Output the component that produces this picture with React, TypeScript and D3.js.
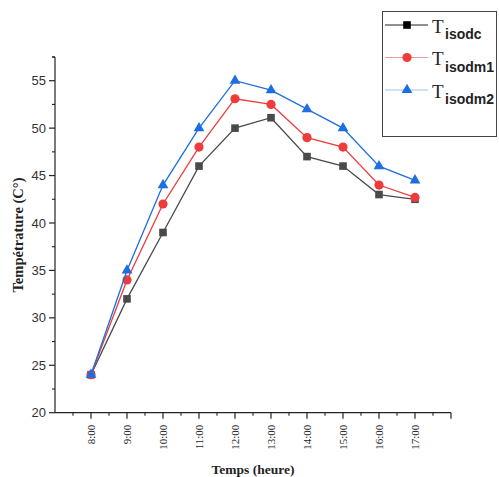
import React from "react";
import * as d3 from "d3";

const hours = [8, 9, 10, 11, 12, 13, 14, 15, 16, 17];
const hourLabels = ["8:00", "9:00", "10:00", "11:00", "12:00", "13:00", "14:00", "15:00", "16:00", "17:00"];
const tIsodc = [24, 32, 39, 46, 50, 51.1, 47, 46, 43, 42.5];
const tIsodm1 = [24, 34, 42, 48, 53.1, 52.5, 49, 48, 44, 42.7];
const tIsodm2 = [24, 35, 44, 50, 55, 54, 52, 50, 46, 44.5];
const yTicks = [20, 25, 30, 35, 40, 45, 50, 55];
const seriesNames = ["isodc", "isodm1", "isodm2"];

const W = 499, H = 477;
const x = d3.scaleLinear().domain([7, 18]).range([55, 451]);
const y = d3.scaleLinear().domain([20, 57.5]).range([412.7, 57]);

const series = [
  { name: seriesNames[0], values: tIsodc, color: "#4a4a4a", legendLine: "#222", marker: "square" },
  { name: seriesNames[1], values: tIsodm1, color: "#ee3b3b", legendLine: "#f59a9a", marker: "circle" },
  { name: seriesNames[2], values: tIsodm2, color: "#1d6ee0", legendLine: "#9cc2f2", marker: "triangle" },
];

function Marker({ type, cx, cy, color }: { type: string; cx: number; cy: number; color: string }) {
  if (type === "square") return <rect x={cx - 3.8} y={cy - 3.8} width={7.6} height={7.6} fill={color} />;
  if (type === "circle") return <circle cx={cx} cy={cy} r={4.6} fill={color} />;
  const s = d3.symbol().type(d3.symbolTriangle).size(50)();
  return <path d={s as string} transform={`translate(${cx},${cy})`} fill={color} />;
}

export default function App() {
  const line = d3.line<number>().x((_, i) => x(hours[i])).y((v) => y(v));
  const minorX = d3.range(7.5, 18, 1);
  const minorY = d3.range(22.5, 58, 5);
  return (
    <svg width={W} height={H} style={{ position: "absolute", left: 0, top: 0, background: "#fff" }}>
      {/* axes */}
      <line x1={x(7)} x2={x(18)} y1={y(20)} y2={y(20)} stroke="#222" strokeWidth={1.2} />
      <line x1={x(7)} x2={x(7)} y1={y(20)} y2={y(57.5)} stroke="#222" strokeWidth={1.2} />
      {yTicks.map((t) => (
        <g key={"yt" + t}>
          <line x1={x(7) - 6} x2={x(7)} y1={y(t)} y2={y(t)} stroke="#222" strokeWidth={1.2} />
          <text x={x(7) - 9} y={y(t)} dy="0.35em" textAnchor="end" fontFamily="Liberation Sans, Arial, sans-serif" fontSize={13} fill="#333">{t}</text>
        </g>
      ))}
      {minorY.map((t) => (
        <line key={"my" + t} x1={x(7) - 3} x2={x(7)} y1={y(t)} y2={y(t)} stroke="#222" strokeWidth={1.1} />
      ))}
      {hours.map((h, i) => (
        <g key={"xt" + h}>
          <line x1={x(h)} x2={x(h)} y1={y(20)} y2={y(20) + 6} stroke="#222" strokeWidth={1.2} />
          <text transform={`translate(${x(h)},${y(20) + 12}) rotate(-90)`} dy="0.35em" textAnchor="end" fontFamily="Liberation Serif, Times New Roman, serif" fontSize={11} fill="#222">{hourLabels[i]}</text>
        </g>
      ))}
      {minorX.map((h) => (
        <line key={"mx" + h} x1={x(h)} x2={x(h)} y1={y(20)} y2={y(20) + 3} stroke="#222" strokeWidth={1.1} />
      ))}
      <line x1={x(18)} x2={x(18)} y1={y(20)} y2={y(20) + 6} stroke="#222" strokeWidth={1.2} />
      <line x1={x(7)} x2={x(7) - 3} y1={y(57.5)} y2={y(57.5)} stroke="#222" strokeWidth={1.1} />
      {/* titles */}
      <text x={253} y={474} textAnchor="middle" fontFamily="Liberation Serif, Times New Roman, serif" fontWeight="bold" fontSize={13.5} fill="#222">Temps (heure)</text>
      <text transform="translate(23,235) rotate(-90)" textAnchor="middle" fontFamily="Liberation Serif, Times New Roman, serif" fontWeight="bold" fontSize={14.5} fill="#222">Tempétrature (C°)</text>
      {/* series */}
      {series.map((s) => (
        <g key={s.name}>
          <path d={line(s.values) as string} fill="none" stroke={s.color} strokeWidth={1.3} />
          {s.values.map((v, i) => (
            <Marker key={i} type={s.marker} cx={x(hours[i])} cy={y(v)} color={s.color} />
          ))}
        </g>
      ))}
      {/* legend */}
      <rect x={382.5} y={11.5} width={114} height={125} fill="#fff" stroke="#444" strokeWidth={1} />
      {series.map((s, i) => {
        const ry = 25 + i * 32.5;
        return (
          <g key={"lg" + s.name}>
            <line x1={385} x2={428} y1={ry} y2={ry} stroke={s.legendLine} strokeWidth={1} />
            <Marker type={s.marker} cx={407} cy={ry} color={s.marker === "square" ? "#000" : s.color} />
            <text x={432} y={ry + 7.5} fontFamily="Liberation Serif, Times New Roman, serif" fontSize={19} fill="#222">T</text>
            <text x={445} y={ry + 14} fontFamily="Liberation Sans, Arial, sans-serif" fontWeight="bold" fontSize={14} fill="#222">{s.name}</text>
          </g>
        );
      })}
    </svg>
  );
}
